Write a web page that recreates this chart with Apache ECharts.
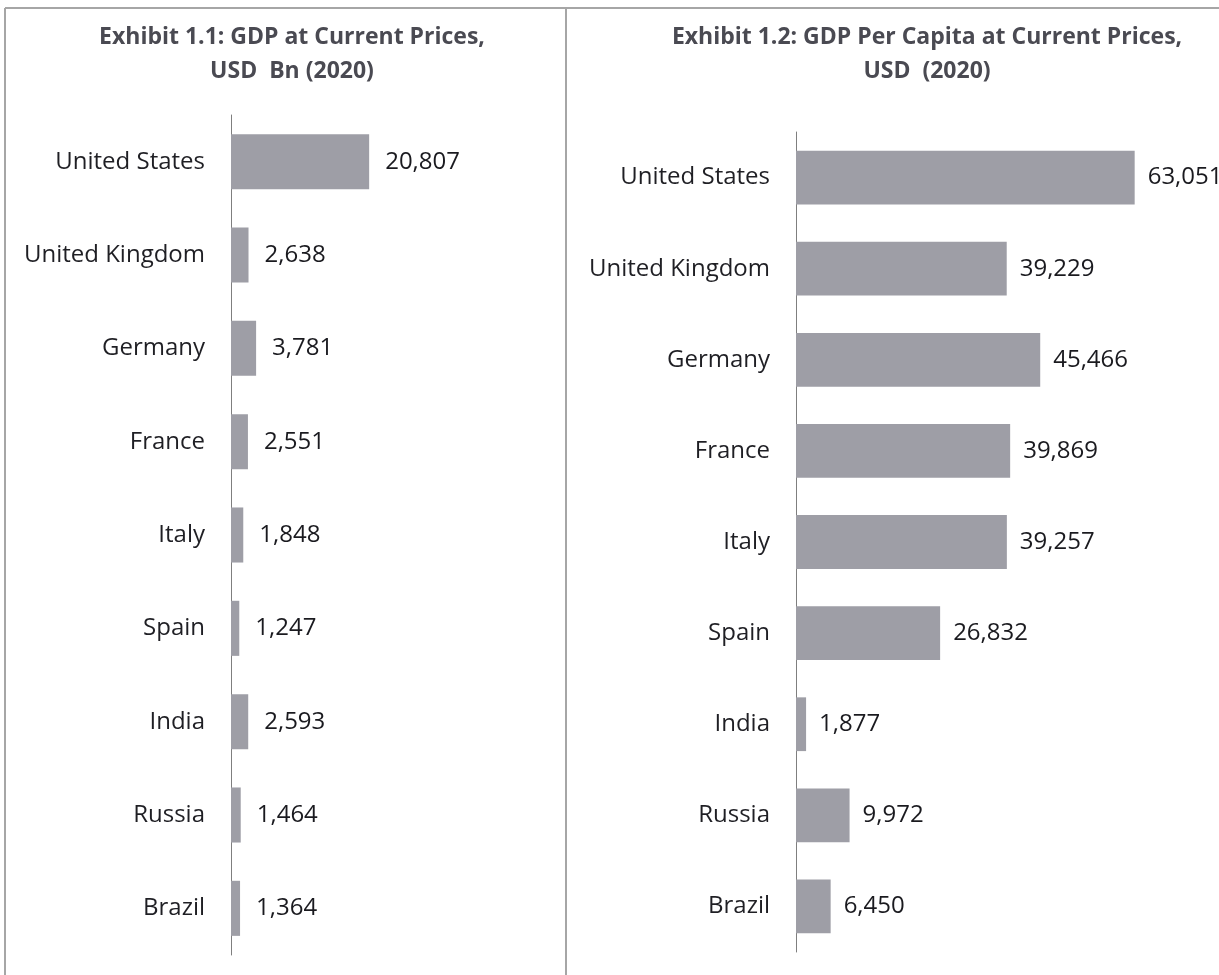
<!DOCTYPE html>
<html>
<head>
<meta charset="utf-8">
<script src="https://cdn.jsdelivr.net/npm/echarts@6/dist/echarts.min.js"></script>
<style>
  html, body { margin: 0; padding: 0; background: #fff; }
  #chart { width: 1219px; height: 975px; }
</style>
</head>
<body>
<div id="chart"></div>
<script>
// categories and values
const countries = ["United States", "United Kingdom", "Germany", "France", "Italy", "Spain", "India", "Russia", "Brazil"];
const gdpBn = [20807, 2638, 3781, 2551, 1848, 1247, 2593, 1464, 1364];
const gdpPerCapita = [63051, 39229, 45466, 39869, 39257, 26832, 1877, 9972, 6450];
const titleLeft = "Exhibit 1.1: GDP at Current Prices,\nUSD  Bn (2020)";
const titleRight = "Exhibit 1.2: GDP Per Capita at Current Prices,\nUSD  (2020)";

const font = "Open Sans";
const barColor = "#9e9ea6";
const fmt = v => v.toLocaleString("en-US");

const chart = echarts.init(document.getElementById("chart"));

function catAxis(gridIndex) {
  return {
    type: "category",
    gridIndex: gridIndex,
    data: countries,
    inverse: true,
    axisTick: { show: false },
    axisLine: { show: true, lineStyle: { color: "#7f7f7f", width: 1 } },
    axisLabel: { color: "#1f1f24", fontSize: 24, fontFamily: font, margin: 26 }
  };
}

function valAxis(gridIndex, max) {
  return {
    type: "value",
    gridIndex: gridIndex,
    min: 0,
    max: max,
    show: false,
    splitLine: { show: false }
  };
}

function barSeries(idx, data, gap) {
  return {
    type: "bar",
    xAxisIndex: idx,
    yAxisIndex: idx,
    data: data,
    barCategoryGap: "41%",
    itemStyle: { color: barColor },
    label: {
      show: true,
      position: "right",
      distance: gap,
      color: "#1a1a1f",
      fontSize: 24,
      fontFamily: font,
      formatter: p => fmt(p.value)
    }
  };
}

const option = {
  backgroundColor: "#ffffff",
  animation: false,
  title: [
    {
      text: titleLeft,
      left: 287,
      top: 15,
      textAlign: "center",
      textStyle: { fontFamily: font, fontWeight: "bold", fontSize: 23, color: "#4a4a52", lineHeight: 34 }
    },
    {
      text: titleRight,
      left: 922,
      top: 15,
      textAlign: "center",
      textStyle: { fontFamily: font, fontWeight: "bold", fontSize: 23, color: "#4a4a52", lineHeight: 34 }
    }
  ],
  grid: [
    { left: 231, top: 115, height: 840, width: 166 },
    { left: 796, top: 132, height: 820, width: 376 }
  ],
  xAxis: [valAxis(0, 25000), valAxis(1, 70000)],
  yAxis: [catAxis(0), catAxis(1)],
  series: [barSeries(0, gdpBn, 16), barSeries(1, gdpPerCapita, 13)],
  graphic: [
    // frame lines around the two panels
    { type: "line", shape: { x1: 5, y1: 8, x2: 1219, y2: 8 }, style: { stroke: "#a6a6a6", lineWidth: 2 } },
    { type: "line", shape: { x1: 5, y1: 8, x2: 5, y2: 975 }, style: { stroke: "#a6a6a6", lineWidth: 2 } },
    { type: "line", shape: { x1: 566, y1: 8, x2: 566, y2: 975 }, style: { stroke: "#a6a6a6", lineWidth: 2 } }
  ]
};

chart.setOption(option);
</script>
</body>
</html>
